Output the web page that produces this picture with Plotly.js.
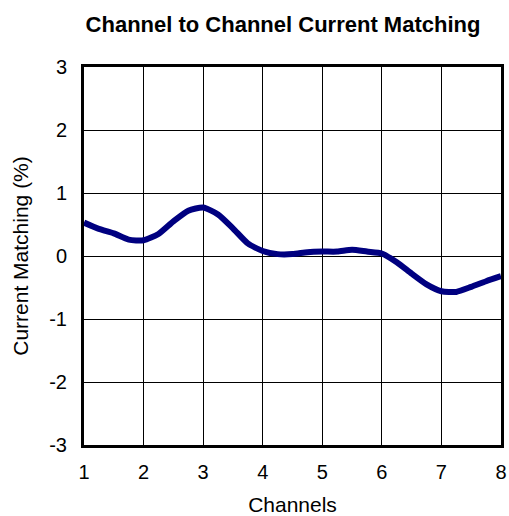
<!DOCTYPE html>
<html><head><meta charset="utf-8">
<script src="https://cdn.plot.ly/plotly-3.0.1.min.js"></script>
<style>html,body{margin:0;padding:0;background:#fff}#chart{width:509px;height:516px}</style>
</head><body><div id="chart"></div>
<script>
const channels = [1,1.25,1.5,1.75,2,2.25,2.5,2.75,3,3.25,3.5,3.75,4,4.25,4.5,4.75,5,5.25,5.5,5.75,6,6.25,6.5,6.75,7,7.25,7.5,7.75,8];
const matching = [0.53,0.43,0.36,0.26,0.25,0.35,0.55,0.72,0.77,0.66,0.44,0.2,0.08,0.03,0.03,0.06,0.07,0.07,0.1,0.07,0.04,-0.1,-0.28,-0.45,-0.56,-0.57,-0.49,-0.4,-0.32];
const xTicks = [1,2,3,4,5,6,7,8];
const yTicks = [-3,-2,-1,0,1,2,3];

const font = {family:'Liberation Sans, Arial, sans-serif', color:'#000'};
Plotly.newPlot('chart', [{
  x: channels, y: matching, type:'scatter', mode:'lines',
  line:{color:'#000080', width:6, shape:'spline', smoothing:0.6},
  hoverinfo:'none'
}], {
  width:509, height:516,
  margin:{l:84, r:8, t:67, b:71},
  paper_bgcolor:'#fff', plot_bgcolor:'#fff',
  showlegend:false,
  font: Object.assign({size:20}, font),
  title:{text:'<b>Channel to Channel Current Matching</b>', x:0.556, xref:'container', xanchor:'center', y:0.953, yref:'container', yanchor:'middle',
    font:Object.assign({size:22}, font)},
  xaxis:{range:[1,8], tickvals:xTicks, ticktext:xTicks.map(String), showgrid:true, gridcolor:'#000', gridwidth:1,
    zeroline:false, showline:true, linecolor:'#000', linewidth:3, mirror:true, ticks:'', ticklabelstandoff:7,
    tickfont:Object.assign({size:20}, font),
    title:{text:'Channels', font:Object.assign({size:21}, font), standoff:20}},
  yaxis:{range:[-3,3], tickvals:yTicks, ticktext:yTicks.map(String), showgrid:true, gridcolor:'#000', gridwidth:1,
    zeroline:false, showline:true, linecolor:'#000', linewidth:3, mirror:true, ticks:'', ticklabelstandoff:10,
    tickfont:Object.assign({size:20}, font),
    title:{text:'Current Matching (%)', font:Object.assign({size:21}, font), standoff:15}}
}, {displayModeBar:false, staticPlot:true});
</script></body></html>
